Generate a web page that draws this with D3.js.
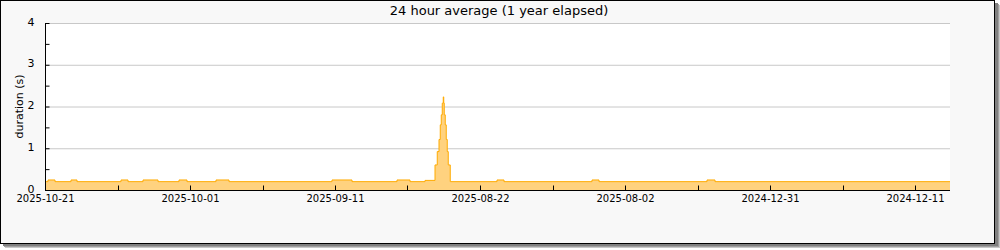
<!DOCTYPE html>
<html><head><meta charset="utf-8">
<script src="https://cdn.jsdelivr.net/npm/d3@7"></script>
<style>body{margin:0;background:#fff;}svg{display:block;font-family:"DejaVu Sans",sans-serif;}</style>
</head><body><svg id="c" width="1000" height="250"></svg>
<script>
const title = "24 hour average (1 year elapsed)";
const yLabel = "duration (s)";
const tickLabels = ["2025-10-21","2025-10-01","2025-09-11","2025-08-22","2025-08-02","2024-12-31","2024-12-11"];
const tickDays = [0, 58, 116, 174, 232, 290, 348];
const minorTickDays = [29, 87, 145, 203, 261, 319];
const yTicks = [0, 1, 2, 3, 4];
const yMinorTicks = [0.5, 1.5, 2.5, 3.5];
const days = [0, 1.2, 4, 10.4, 12.8, 30.4, 33.2, 39.2, 45.2, 53.6, 56.8, 68.4, 73.6, 114.8, 122.8, 140.8, 146, 152, 156, 156.9, 157.6, 158.1, 158.5, 158.9, 159.3, 159.5, 159.7, 160.1, 160.5, 160.9, 161.3, 162.1, 180.8, 183.6, 218.8, 221.6, 264.8, 268, 362];
const values = [0.2, 0.24, 0.2, 0.24, 0.2, 0.24, 0.2, 0.24, 0.2, 0.24, 0.2, 0.24, 0.2, 0.24, 0.2, 0.24, 0.2, 0.23, 0.6, 0.92, 1.21, 1.56, 1.8, 2.08, 2.23, 2.08, 1.8, 1.56, 1.21, 0.92, 0.6, 0.2, 0.24, 0.2, 0.24, 0.2, 0.24, 0.2, 0.2];

const svg = d3.select("#c");
const L = 45, R = 950, T = 23, B = 190;
const x = d3.scaleLinear().domain([0, 362]).range([L, R]);
const y = d3.scaleLinear().domain([0, 4]).range([B, T]);

// frame shadow
const shadow = [["#c8c8c8",5],["#a0a0a0",4],["#808080",3]];
shadow.forEach(([c,o]) => svg.append("rect").attr("x", o).attr("y", o).attr("width", 995).attr("height", 243).attr("fill", c));
svg.append("rect").attr("x", 0.5).attr("y", 0.5).attr("width", 994).attr("height", 243)
  .attr("fill", "#f8f8f8").attr("stroke", "#000").attr("stroke-width", 1);

svg.append("rect").attr("x", L).attr("y", T).attr("width", R - L).attr("height", B - T).attr("fill", "#fff");

// grid
svg.append("g").selectAll("line").data(yTicks.filter(d => d > 0)).join("line")
  .attr("x1", L).attr("x2", R).attr("y1", d => y(d) + 0.5).attr("y2", d => y(d) + 0.5)
  .attr("stroke", "#c8c8c8").attr("stroke-width", 1);

const data = days.map((d, i) => ({d, v: values[i]}));
svg.append("path").datum(data)
  .attr("d", d3.area().x(p => x(p.d)).y0(y(0)).y1(p => y(p.v)).curve(d3.curveStepAfter))
  .attr("fill", "#ffd27f");
svg.append("path").datum(data)
  .attr("d", d3.line().x(p => x(p.d)).y(p => y(p.v)).curve(d3.curveStepAfter))
  .attr("fill", "none").attr("stroke", "#ffaa00").attr("stroke-width", 1);

// y axis
const yAxis = svg.append("g").attr("transform", `translate(${L + 0.5},0)`)
  .call(d3.axisLeft(y).tickValues(yTicks).tickSize(-4).tickPadding(11).tickFormat(d3.format("d")));
yAxis.select(".domain").attr("d", `M0,${T}V${B}`).attr("stroke", "#000");
yAxis.selectAll(".tick line").attr("stroke", "#000");
yAxis.selectAll("text").attr("font-size", 11).attr("font-family", "DejaVu Sans").attr("fill", "#000").attr("dy", "0.2em");
svg.append("g").attr("transform", `translate(${L + 0.5},0)`)
  .selectAll("line").data(yMinorTicks).join("line")
  .attr("x1", 0).attr("x2", 4).attr("y1", d => y(d) + 0.5).attr("y2", d => y(d) + 0.5).attr("stroke", "#000");

// x axis
const xAxis = svg.append("g").attr("transform", `translate(0,${B + 0.5})`)
  .call(d3.axisBottom(x).tickValues(tickDays).tickSize(-5).tickPadding(4).tickFormat((d, i) => tickLabels[i]));
xAxis.select(".domain").attr("d", `M${L},0H${R}`).attr("stroke", "#000");
xAxis.selectAll(".tick line").attr("stroke", "#000");
xAxis.selectAll("text").attr("font-size", 10).attr("font-family", "DejaVu Sans").attr("fill", "#000");
svg.append("g").attr("transform", `translate(0,${B + 0.5})`)
  .selectAll("line").data(minorTickDays).join("line")
  .attr("x1", d => Math.round(x(d)) + 0.5).attr("x2", d => Math.round(x(d)) + 0.5).attr("y1", 0).attr("y2", -5).attr("stroke", "#000");

svg.append("text").attr("x", 499).attr("y", 15).attr("text-anchor", "middle")
  .attr("font-size", 13).text(title);
svg.append("text").attr("transform", `translate(23,${(T + B) / 2}) rotate(-90)`).attr("text-anchor", "middle")
  .attr("font-size", 11).text(yLabel);
</script></body></html>
